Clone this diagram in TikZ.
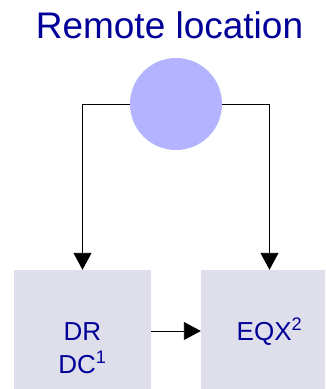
\documentclass[tikz,border=0pt]{standalone}
\usepackage{fontspec}
\setmainfont{Liberation Sans}
\usetikzlibrary{arrows.meta}
\definecolor{textblue}{RGB}{0,0,153}
\definecolor{boxfill}{RGB}{223,223,235}
\definecolor{sitefill}{RGB}{179,179,255}
\tikzset{
    site/.style={circle, fill=sitefill, minimum size=92pt, inner sep=0pt},
    dcbox/.style={fill=boxfill, minimum width=137pt, minimum height=122pt, inner sep=0pt},
    boxtext/.style={text=textblue, font=\fontsize{26}{33}\selectfont, align=center, inner sep=0pt},
    link/.style={draw=black, line width=0.9pt, -{Triangle[length=17pt,width=18pt]}}
}
\begin{document}
    \begin{tikzpicture}[x=1pt, y=-1pt]
        \clip (0, 0) rectangle (325, 389);
        \node[text=textblue, font=\fontsize{37}{44}\selectfont, anchor=base] (title) at (169.5, 38) {Remote location};
        \node[dcbox] (dr) at (82.5, 331) {};
        \node[dcbox] (eqx) at (269.5, 331) {};
        \node[site] (remote) at (176, 104) {};
        \draw[link] (remote.west) -| (dr.north);
        \draw[link] (remote.east) -| (eqx.north);
        \draw[link] (dr.east) -- (eqx.west);
        \node[boxtext, anchor=base] (drtext) at (82.5, 373) {DR\\DC\textsuperscript{1}};
        \node[boxtext, anchor=base] (eqxtext) at (269.5, 340) {EQX\textsuperscript{2}};
    \end{tikzpicture}
\end{document}
